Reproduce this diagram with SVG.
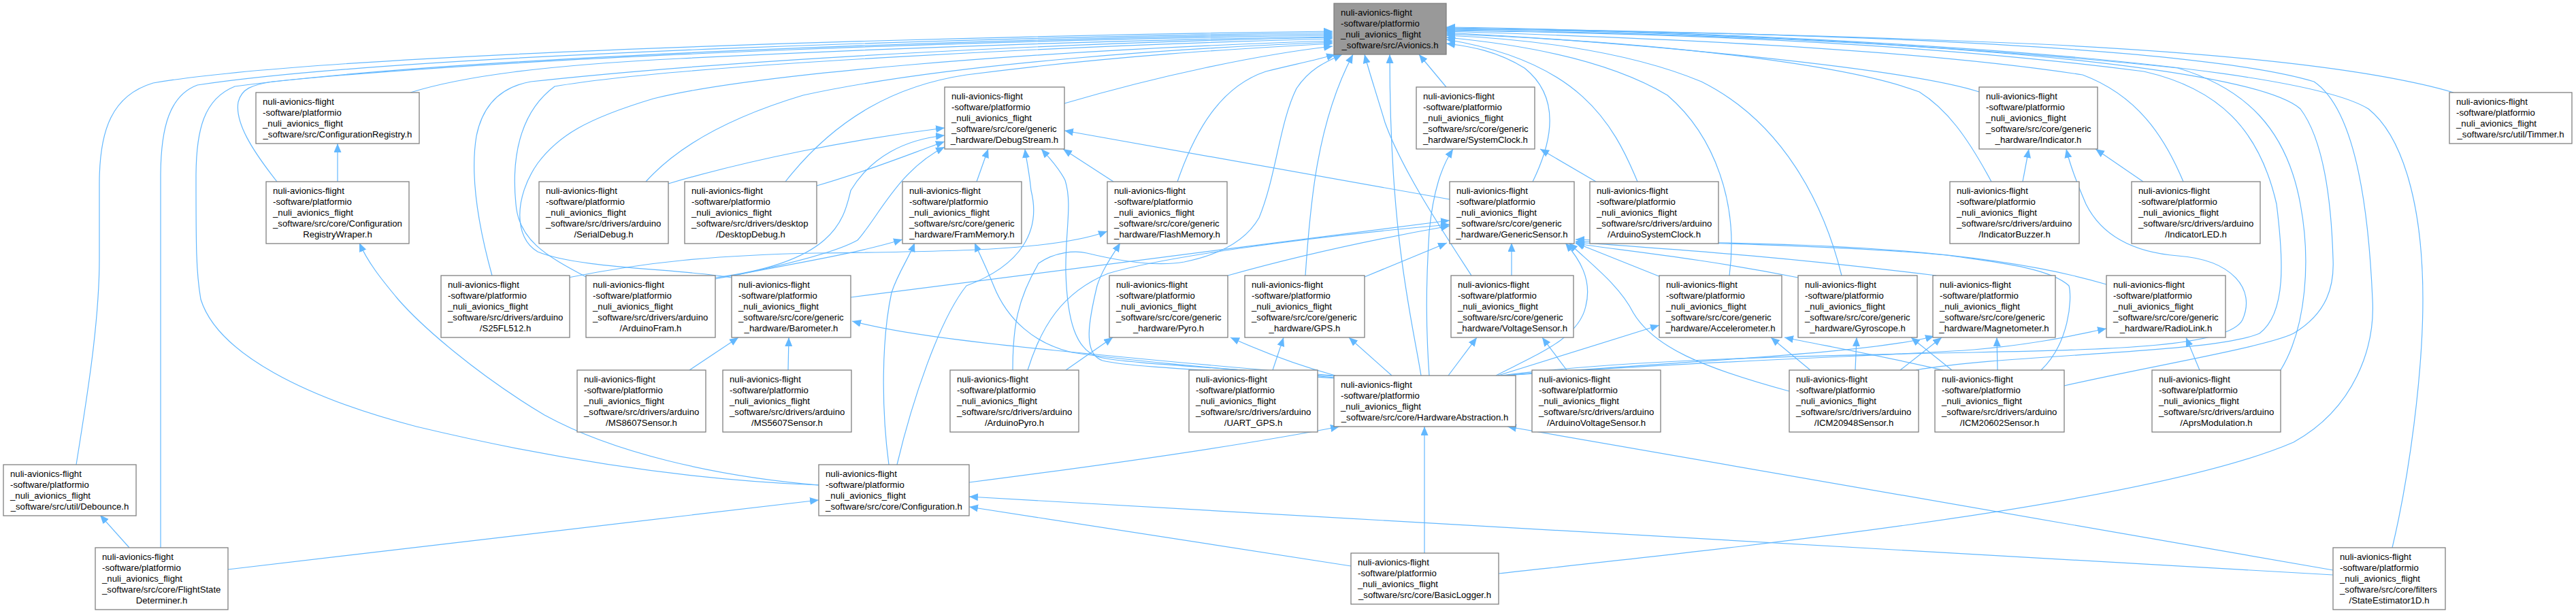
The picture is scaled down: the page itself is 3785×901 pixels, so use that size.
<svg xmlns="http://www.w3.org/2000/svg" width="3785" height="901" viewBox="0 0 3785 901">
<defs>
<marker id="ah" markerUnits="userSpaceOnUse" markerWidth="14" markerHeight="12" refX="13" refY="5.5" orient="auto"><path d="M0,0 L13,5.5 L0,11 z" fill="#63b8ff"/></marker>
</defs>
<style>
.e{fill:none;stroke:#63b8ff;stroke-width:1.2;marker-end:url(#ah)}
.n rect{fill:#fff;stroke:#808080;stroke-width:1.3}
.n text{font-family:"Liberation Sans",Arial,Helvetica,sans-serif;font-size:13.2px;fill:#000}
.n text.c{text-anchor:middle}
#n-avionics rect{fill:#999}
</style>
<rect width="3785" height="901" fill="#fff"/>
<g id="edges">
<path class="e" d="M112,683 C125,600 146,480 146,380 L146,270 C146,190 165,140 225,122 C500,75 1500,52 1958,46"/>
<path class="e" d="M236,805 L236,260 C236,185 250,140 290,125 C600,78 1500,54 1958,48"/>
<path class="e" d="M1203,713 C1000,705 800,672 612,627 C450,585 320,520 295,440 C288,400 288,360 288,260 C288,190 300,145 345,127 C700,80 1500,56 1958,50"/>
<path class="e" d="M407,267 C370,220 345,180 350,150 C355,130 370,125 400,120 C800,80 1500,58 1958,52"/>
<path class="e" d="M603,136 C680,112 800,96 1000,86 C1400,66 1700,58 1958,54"/>
<path class="e" d="M723,405 C705,340 690,260 700,200 C710,150 740,127 780,120 C1100,85 1600,62 1958,55"/>
<path class="e" d="M863,408 C800,375 762,352 758,300 C750,220 770,160 815,127 C1000,95 1600,66 1958,57"/>
<path class="e" d="M1075,408 C1000,395 850,395 790,370 C755,350 755,290 790,240 C820,200 860,175 960,145 C1100,110 1500,75 1958,60"/>
<path class="e" d="M949,267 C1000,210 1080,170 1180,140 C1400,92 1750,70 1958,62"/>
<path class="e" d="M1154,267 C1230,170 1320,125 1420,110 C1650,80 1850,70 1958,64"/>
<path class="e" d="M1564,152 C1700,112 1850,80 1958,68"/>
<path class="e" d="M1730,267 C1760,180 1800,125 1860,105 C1900,95 1935,88 1962,80"/>
<path class="e" d="M1488,544 C1488,480 1495,440 1526,387 C1550,370 1580,368 1597,372 C1650,385 1700,392 1740,385 C1790,375 1830,355 1850,320 C1875,260 1880,180 1905,130 C1925,100 1950,90 1972,80"/>
<path class="e" d="M1918,405 C1925,300 1935,180 1988,80"/>
<path class="e" d="M2088,552 C2075,470 2042,350 2042,80"/>
<path class="e" d="M2162,405 C2120,340 2060,250 2035,180 C2020,130 2010,100 2005,80"/>
<path class="e" d="M2125,128 L2085,80"/>
<path class="e" d="M2252,267 C2285,200 2290,140 2240,100 C2200,75 2160,68 2125,64"/>
<path class="e" d="M2406,267 C2370,180 2320,90 2125,58"/>
<path class="e" d="M2541,405 C2555,300 2520,200 2450,140 C2350,80 2200,62 2125,55"/>
<path class="e" d="M2706,405 C2680,300 2620,180 2500,120 C2380,70 2220,56 2125,52"/>
<path class="e" d="M2908,135 C2800,100 2400,62 2125,48"/>
<path class="e" d="M2926,267 C2890,200 2860,160 2820,135 C2700,90 2400,60 2125,50"/>
<path class="e" d="M3208,267 C3180,200 3140,140 3060,110 C2800,70 2400,55 2125,46"/>
<path class="e" d="M3605,136 C3500,105 3300,80 3000,65 C2600,48 2300,44 2125,43"/>
<path class="e" d="M2815,544 C2950,520 3250,520 3320,490 C3360,460 3355,380 3345,300 C3320,190 3260,130 3150,105 C2800,60 2400,48 2125,45"/>
<path class="e" d="M3351,544 C3390,480 3395,380 3380,300 C3360,190 3300,130 3200,100 C2800,58 2400,48 2125,44"/>
<path class="e" d="M3033,567 C3150,540 3330,510 3370,490 C3420,460 3430,420 3428,380 C3425,280 3410,200 3380,160 C3300,90 2700,50 2125,42"/>
<path class="e" d="M2202,843 C2500,810 3150,745 3370,650 C3460,600 3490,510 3486,440 C3480,300 3460,160 3400,120 C3200,60 2500,46 2125,41"/>
<path class="e" d="M3515,805 C3540,700 3560,550 3560,440 C3560,300 3530,200 3480,160 C3350,80 2500,45 2125,40"/>
<path class="e" d="M496,267 L496,211"/>
<path class="e" d="M1203,713 C1050,700 900,665 800,610 C700,550 620,480 585,440 C560,410 540,385 528,357"/>
<path class="e" d="M190,805 L147,757"/>
<path class="e" d="M335,837 L1203,735"/>
<path class="e" d="M982,270 C1100,235 1250,205 1388,188"/>
<path class="e" d="M1200,273 C1280,250 1340,225 1388,208"/>
<path class="e" d="M1051,408 C1230,385 1240,320 1250,280 C1280,230 1330,205 1388,199"/>
<path class="e" d="M1078,405 C1150,390 1230,370 1260,353 C1290,320 1320,250 1388,216"/>
<path class="e" d="M1435,267 L1452,219"/>
<path class="e" d="M1318,683 C1340,590 1380,470 1420,420 C1500,390 1530,340 1515,280 C1512,250 1508,235 1506,219"/>
<path class="e" d="M1962,555 C1800,540 1660,535 1615,525 C1580,515 1568,470 1566,400 C1565,340 1576,300 1565,265 C1555,245 1540,230 1530,219"/>
<path class="e" d="M1962,556 C1800,545 1660,540 1620,530 C1590,520 1600,470 1612,420 C1620,395 1635,375 1646,357"/>
<path class="e" d="M1510,544 C1530,480 1560,430 1628,402 C1700,380 1900,350 2130,330"/>
<path class="e" d="M1566,544 L1635,496"/>
<path class="e" d="M1636,267 L1562,219"/>
<path class="e" d="M2130,293 L1564,192"/>
<path class="e" d="M1962,553 C1800,545 1620,525 1575,518 C1520,505 1480,470 1460,420 C1450,395 1440,375 1432,357"/>
<path class="e" d="M1051,410 C1150,390 1250,375 1326,352"/>
<path class="e" d="M1306,683 C1295,600 1295,500 1310,430 C1320,400 1335,380 1344,357"/>
<path class="e" d="M835,408 C950,385 1050,375 1200,372 C1400,370 1550,368 1627,340"/>
<path class="e" d="M2345,267 L2263,219"/>
<path class="e" d="M2100,552 C2095,480 2095,420 2100,340 C2106,280 2118,245 2135,219"/>
<path class="e" d="M2972,267 L2981,219"/>
<path class="e" d="M3149,267 L3079,219"/>
<path class="e" d="M2205,552 C2400,527 2700,522 2900,518 C3100,514 3275,510 3295,470 C3315,425 3280,382 3200,376 C3125,370 3085,340 3065,300 C3052,270 3042,245 3036,219"/>
<path class="e" d="M1013,544 L1085,496"/>
<path class="e" d="M1158,544 L1159,496"/>
<path class="e" d="M1962,552 C1800,540 1650,525 1550,515 C1420,502 1320,490 1252,472"/>
<path class="e" d="M1962,552 C1900,535 1850,515 1808,496"/>
<path class="e" d="M1870,544 L1886,496"/>
<path class="e" d="M2045,552 L1982,496"/>
<path class="e" d="M2128,552 L2170,496"/>
<path class="e" d="M2302,544 L2266,496"/>
<path class="e" d="M2201,552 L2438,478"/>
<path class="e" d="M2660,544 L2602,496"/>
<path class="e" d="M2855,544 C2760,522 2680,508 2622,496"/>
<path class="e" d="M2726,544 L2728,496"/>
<path class="e" d="M2868,544 L2808,496"/>
<path class="e" d="M2792,544 L2853,496"/>
<path class="e" d="M2935,544 L2934,496"/>
<path class="e" d="M2210,552 C2450,532 2750,520 2842,494"/>
<path class="e" d="M3232,544 L3212,496"/>
<path class="e" d="M2212,552 C2500,530 2800,522 2900,514 C3000,505 3050,492 3095,483"/>
<path class="e" d="M1250,437 L2130,324"/>
<path class="e" d="M1804,405 C1900,378 2000,355 2130,332"/>
<path class="e" d="M2005,407 L2126,357"/>
<path class="e" d="M2221,405 L2221,357"/>
<path class="e" d="M2440,407 L2315,357"/>
<path class="e" d="M2642,408 C2500,380 2400,370 2315,358"/>
<path class="e" d="M2845,405 C2600,375 2450,366 2315,356"/>
<path class="e" d="M3095,418 C2900,360 2600,355 2315,355"/>
<path class="e" d="M2999,544 C3040,505 3045,440 3040,420 C3010,392 2920,384 2860,375 C2700,360 2450,356 2315,352"/>
<path class="e" d="M2198,552 C2260,520 2320,497 2330,450 C2340,410 2320,380 2300,357"/>
<path class="e" d="M2629,575 C2500,540 2430,510 2400,460 C2380,420 2340,390 2305,357"/>
<path class="e" d="M1424,709 C1650,680 1850,650 1968,627"/>
<path class="e" d="M2093,813 L2093,627"/>
<path class="e" d="M3428,838 L2215,627"/>
<path class="e" d="M1985,832 L1424,745"/>
<path class="e" d="M3428,845 L1424,730"/>
</g>
<g id="n-avionics" class="n"><rect x="1960" y="5" width="165" height="75"/><text x="1970" y="22.5">nuli-avionics-flight</text><text x="1970" y="38.5">-software/platformio</text><text x="1970" y="54.5">_nuli_avionics_flight</text><text class="c" x="2042.5" y="70.5">_software/src/Avionics.h</text></g>
<g id="n-configregistry" class="n"><rect x="376" y="136" width="240" height="75"/><text x="386" y="153.5">nuli-avionics-flight</text><text x="386" y="169.5">-software/platformio</text><text x="386" y="185.5">_nuli_avionics_flight</text><text class="c" x="496" y="201.5">_software/src/ConfigurationRegistry.h</text></g>
<g id="n-debugstream" class="n"><rect x="1388" y="128" width="176" height="91"/><text x="1398" y="145.5">nuli-avionics-flight</text><text x="1398" y="161.5">-software/platformio</text><text x="1398" y="177.5">_nuli_avionics_flight</text><text x="1398" y="193.5">_software/src/core/generic</text><text class="c" x="1476" y="209.5">_hardware/DebugStream.h</text></g>
<g id="n-systemclock" class="n"><rect x="2081" y="128" width="174" height="91"/><text x="2091" y="145.5">nuli-avionics-flight</text><text x="2091" y="161.5">-software/platformio</text><text x="2091" y="177.5">_nuli_avionics_flight</text><text x="2091" y="193.5">_software/src/core/generic</text><text class="c" x="2168" y="209.5">_hardware/SystemClock.h</text></g>
<g id="n-indicator" class="n"><rect x="2908" y="128" width="174" height="91"/><text x="2918" y="145.5">nuli-avionics-flight</text><text x="2918" y="161.5">-software/platformio</text><text x="2918" y="177.5">_nuli_avionics_flight</text><text x="2918" y="193.5">_software/src/core/generic</text><text class="c" x="2995" y="209.5">_hardware/Indicator.h</text></g>
<g id="n-timmer" class="n"><rect x="3599" y="136" width="180" height="75"/><text x="3609" y="153.5">nuli-avionics-flight</text><text x="3609" y="169.5">-software/platformio</text><text x="3609" y="185.5">_nuli_avionics_flight</text><text class="c" x="3689" y="201.5">_software/src/util/Timmer.h</text></g>
<g id="n-configwrapper" class="n"><rect x="391" y="267" width="210" height="91"/><text x="401" y="284.5">nuli-avionics-flight</text><text x="401" y="300.5">-software/platformio</text><text x="401" y="316.5">_nuli_avionics_flight</text><text x="401" y="332.5">_software/src/core/Configuration</text><text class="c" x="496" y="348.5">RegistryWraper.h</text></g>
<g id="n-serialdebug" class="n"><rect x="792" y="267" width="190" height="91"/><text x="802" y="284.5">nuli-avionics-flight</text><text x="802" y="300.5">-software/platformio</text><text x="802" y="316.5">_nuli_avionics_flight</text><text x="802" y="332.5">_software/src/drivers/arduino</text><text class="c" x="887" y="348.5">/SerialDebug.h</text></g>
<g id="n-desktopdebug" class="n"><rect x="1006" y="267" width="194" height="91"/><text x="1016" y="284.5">nuli-avionics-flight</text><text x="1016" y="300.5">-software/platformio</text><text x="1016" y="316.5">_nuli_avionics_flight</text><text x="1016" y="332.5">_software/src/drivers/desktop</text><text class="c" x="1103" y="348.5">/DesktopDebug.h</text></g>
<g id="n-frammemory" class="n"><rect x="1326" y="267" width="175" height="91"/><text x="1336" y="284.5">nuli-avionics-flight</text><text x="1336" y="300.5">-software/platformio</text><text x="1336" y="316.5">_nuli_avionics_flight</text><text x="1336" y="332.5">_software/src/core/generic</text><text class="c" x="1413.5" y="348.5">_hardware/FramMemory.h</text></g>
<g id="n-flashmemory" class="n"><rect x="1627" y="267" width="176" height="91"/><text x="1637" y="284.5">nuli-avionics-flight</text><text x="1637" y="300.5">-software/platformio</text><text x="1637" y="316.5">_nuli_avionics_flight</text><text x="1637" y="332.5">_software/src/core/generic</text><text class="c" x="1715" y="348.5">_hardware/FlashMemory.h</text></g>
<g id="n-genericsensor" class="n"><rect x="2130" y="267" width="183" height="91"/><text x="2140" y="284.5">nuli-avionics-flight</text><text x="2140" y="300.5">-software/platformio</text><text x="2140" y="316.5">_nuli_avionics_flight</text><text x="2140" y="332.5">_software/src/core/generic</text><text class="c" x="2221.5" y="348.5">_hardware/GenericSensor.h</text></g>
<g id="n-arduinosystemclock" class="n"><rect x="2336" y="267" width="189" height="91"/><text x="2346" y="284.5">nuli-avionics-flight</text><text x="2346" y="300.5">-software/platformio</text><text x="2346" y="316.5">_nuli_avionics_flight</text><text x="2346" y="332.5">_software/src/drivers/arduino</text><text class="c" x="2430.5" y="348.5">/ArduinoSystemClock.h</text></g>
<g id="n-indicatorbuzzer" class="n"><rect x="2865" y="267" width="190" height="91"/><text x="2875" y="284.5">nuli-avionics-flight</text><text x="2875" y="300.5">-software/platformio</text><text x="2875" y="316.5">_nuli_avionics_flight</text><text x="2875" y="332.5">_software/src/drivers/arduino</text><text class="c" x="2960" y="348.5">/IndicatorBuzzer.h</text></g>
<g id="n-indicatorled" class="n"><rect x="3132" y="267" width="189" height="91"/><text x="3142" y="284.5">nuli-avionics-flight</text><text x="3142" y="300.5">-software/platformio</text><text x="3142" y="316.5">_nuli_avionics_flight</text><text x="3142" y="332.5">_software/src/drivers/arduino</text><text class="c" x="3226.5" y="348.5">/IndicatorLED.h</text></g>
<g id="n-s25fl512" class="n"><rect x="648" y="405" width="189" height="91"/><text x="658" y="422.5">nuli-avionics-flight</text><text x="658" y="438.5">-software/platformio</text><text x="658" y="454.5">_nuli_avionics_flight</text><text x="658" y="470.5">_software/src/drivers/arduino</text><text class="c" x="742.5" y="486.5">/S25FL512.h</text></g>
<g id="n-arduinofram" class="n"><rect x="861" y="405" width="190" height="91"/><text x="871" y="422.5">nuli-avionics-flight</text><text x="871" y="438.5">-software/platformio</text><text x="871" y="454.5">_nuli_avionics_flight</text><text x="871" y="470.5">_software/src/drivers/arduino</text><text class="c" x="956" y="486.5">/ArduinoFram.h</text></g>
<g id="n-barometer" class="n"><rect x="1075" y="405" width="175" height="91"/><text x="1085" y="422.5">nuli-avionics-flight</text><text x="1085" y="438.5">-software/platformio</text><text x="1085" y="454.5">_nuli_avionics_flight</text><text x="1085" y="470.5">_software/src/core/generic</text><text class="c" x="1162.5" y="486.5">_hardware/Barometer.h</text></g>
<g id="n-pyro" class="n"><rect x="1630" y="405" width="174" height="91"/><text x="1640" y="422.5">nuli-avionics-flight</text><text x="1640" y="438.5">-software/platformio</text><text x="1640" y="454.5">_nuli_avionics_flight</text><text x="1640" y="470.5">_software/src/core/generic</text><text class="c" x="1717" y="486.5">_hardware/Pyro.h</text></g>
<g id="n-gps" class="n"><rect x="1829" y="405" width="176" height="91"/><text x="1839" y="422.5">nuli-avionics-flight</text><text x="1839" y="438.5">-software/platformio</text><text x="1839" y="454.5">_nuli_avionics_flight</text><text x="1839" y="470.5">_software/src/core/generic</text><text class="c" x="1917" y="486.5">_hardware/GPS.h</text></g>
<g id="n-voltagesensor" class="n"><rect x="2132" y="405" width="180" height="91"/><text x="2142" y="422.5">nuli-avionics-flight</text><text x="2142" y="438.5">-software/platformio</text><text x="2142" y="454.5">_nuli_avionics_flight</text><text x="2142" y="470.5">_software/src/core/generic</text><text class="c" x="2222" y="486.5">_hardware/VoltageSensor.h</text></g>
<g id="n-accelerometer" class="n"><rect x="2438" y="405" width="180" height="91"/><text x="2448" y="422.5">nuli-avionics-flight</text><text x="2448" y="438.5">-software/platformio</text><text x="2448" y="454.5">_nuli_avionics_flight</text><text x="2448" y="470.5">_software/src/core/generic</text><text class="c" x="2528" y="486.5">_hardware/Accelerometer.h</text></g>
<g id="n-gyroscope" class="n"><rect x="2642" y="405" width="175" height="91"/><text x="2652" y="422.5">nuli-avionics-flight</text><text x="2652" y="438.5">-software/platformio</text><text x="2652" y="454.5">_nuli_avionics_flight</text><text x="2652" y="470.5">_software/src/core/generic</text><text class="c" x="2729.5" y="486.5">_hardware/Gyroscope.h</text></g>
<g id="n-magnetometer" class="n"><rect x="2840" y="405" width="180" height="91"/><text x="2850" y="422.5">nuli-avionics-flight</text><text x="2850" y="438.5">-software/platformio</text><text x="2850" y="454.5">_nuli_avionics_flight</text><text x="2850" y="470.5">_software/src/core/generic</text><text class="c" x="2930" y="486.5">_hardware/Magnetometer.h</text></g>
<g id="n-radiolink" class="n"><rect x="3095" y="405" width="175" height="91"/><text x="3105" y="422.5">nuli-avionics-flight</text><text x="3105" y="438.5">-software/platformio</text><text x="3105" y="454.5">_nuli_avionics_flight</text><text x="3105" y="470.5">_software/src/core/generic</text><text class="c" x="3182.5" y="486.5">_hardware/RadioLink.h</text></g>
<g id="n-ms8607" class="n"><rect x="848" y="544" width="189" height="91"/><text x="858" y="561.5">nuli-avionics-flight</text><text x="858" y="577.5">-software/platformio</text><text x="858" y="593.5">_nuli_avionics_flight</text><text x="858" y="609.5">_software/src/drivers/arduino</text><text class="c" x="942.5" y="625.5">/MS8607Sensor.h</text></g>
<g id="n-ms5607" class="n"><rect x="1062" y="544" width="189" height="91"/><text x="1072" y="561.5">nuli-avionics-flight</text><text x="1072" y="577.5">-software/platformio</text><text x="1072" y="593.5">_nuli_avionics_flight</text><text x="1072" y="609.5">_software/src/drivers/arduino</text><text class="c" x="1156.5" y="625.5">/MS5607Sensor.h</text></g>
<g id="n-arduinopyro" class="n"><rect x="1396" y="544" width="189" height="91"/><text x="1406" y="561.5">nuli-avionics-flight</text><text x="1406" y="577.5">-software/platformio</text><text x="1406" y="593.5">_nuli_avionics_flight</text><text x="1406" y="609.5">_software/src/drivers/arduino</text><text class="c" x="1490.5" y="625.5">/ArduinoPyro.h</text></g>
<g id="n-uartgps" class="n"><rect x="1747" y="544" width="189" height="91"/><text x="1757" y="561.5">nuli-avionics-flight</text><text x="1757" y="577.5">-software/platformio</text><text x="1757" y="593.5">_nuli_avionics_flight</text><text x="1757" y="609.5">_software/src/drivers/arduino</text><text class="c" x="1841.5" y="625.5">/UART_GPS.h</text></g>
<g id="n-hardwareabstraction" class="n"><rect x="1960" y="552" width="267" height="75"/><text x="1970" y="569.5">nuli-avionics-flight</text><text x="1970" y="585.5">-software/platformio</text><text x="1970" y="601.5">_nuli_avionics_flight</text><text class="c" x="2093.5" y="617.5">_software/src/core/HardwareAbstraction.h</text></g>
<g id="n-arduinovoltagesensor" class="n"><rect x="2251" y="544" width="189" height="91"/><text x="2261" y="561.5">nuli-avionics-flight</text><text x="2261" y="577.5">-software/platformio</text><text x="2261" y="593.5">_nuli_avionics_flight</text><text x="2261" y="609.5">_software/src/drivers/arduino</text><text class="c" x="2345.5" y="625.5">/ArduinoVoltageSensor.h</text></g>
<g id="n-icm20948" class="n"><rect x="2629" y="544" width="190" height="91"/><text x="2639" y="561.5">nuli-avionics-flight</text><text x="2639" y="577.5">-software/platformio</text><text x="2639" y="593.5">_nuli_avionics_flight</text><text x="2639" y="609.5">_software/src/drivers/arduino</text><text class="c" x="2724" y="625.5">/ICM20948Sensor.h</text></g>
<g id="n-icm20602" class="n"><rect x="2843" y="544" width="190" height="91"/><text x="2853" y="561.5">nuli-avionics-flight</text><text x="2853" y="577.5">-software/platformio</text><text x="2853" y="593.5">_nuli_avionics_flight</text><text x="2853" y="609.5">_software/src/drivers/arduino</text><text class="c" x="2938" y="625.5">/ICM20602Sensor.h</text></g>
<g id="n-aprsmodulation" class="n"><rect x="3162" y="544" width="189" height="91"/><text x="3172" y="561.5">nuli-avionics-flight</text><text x="3172" y="577.5">-software/platformio</text><text x="3172" y="593.5">_nuli_avionics_flight</text><text x="3172" y="609.5">_software/src/drivers/arduino</text><text class="c" x="3256.5" y="625.5">/AprsModulation.h</text></g>
<g id="n-debounce" class="n"><rect x="5" y="683" width="195" height="75"/><text x="15" y="700.5">nuli-avionics-flight</text><text x="15" y="716.5">-software/platformio</text><text x="15" y="732.5">_nuli_avionics_flight</text><text class="c" x="102.5" y="748.5">_software/src/util/Debounce.h</text></g>
<g id="n-configuration" class="n"><rect x="1203" y="683" width="221" height="75"/><text x="1213" y="700.5">nuli-avionics-flight</text><text x="1213" y="716.5">-software/platformio</text><text x="1213" y="732.5">_nuli_avionics_flight</text><text class="c" x="1313.5" y="748.5">_software/src/core/Configuration.h</text></g>
<g id="n-flightstate" class="n"><rect x="140" y="805" width="195" height="91"/><text x="150" y="822.5">nuli-avionics-flight</text><text x="150" y="838.5">-software/platformio</text><text x="150" y="854.5">_nuli_avionics_flight</text><text x="150" y="870.5">_software/src/core/FlightState</text><text class="c" x="237.5" y="886.5">Determiner.h</text></g>
<g id="n-basiclogger" class="n"><rect x="1985" y="813" width="217" height="75"/><text x="1995" y="830.5">nuli-avionics-flight</text><text x="1995" y="846.5">-software/platformio</text><text x="1995" y="862.5">_nuli_avionics_flight</text><text class="c" x="2093.5" y="878.5">_software/src/core/BasicLogger.h</text></g>
<g id="n-stateestimator" class="n"><rect x="3428" y="805" width="165" height="91"/><text x="3438" y="822.5">nuli-avionics-flight</text><text x="3438" y="838.5">-software/platformio</text><text x="3438" y="854.5">_nuli_avionics_flight</text><text x="3438" y="870.5">_software/src/core/filters</text><text class="c" x="3510.5" y="886.5">/StateEstimator1D.h</text></g>
</svg>
